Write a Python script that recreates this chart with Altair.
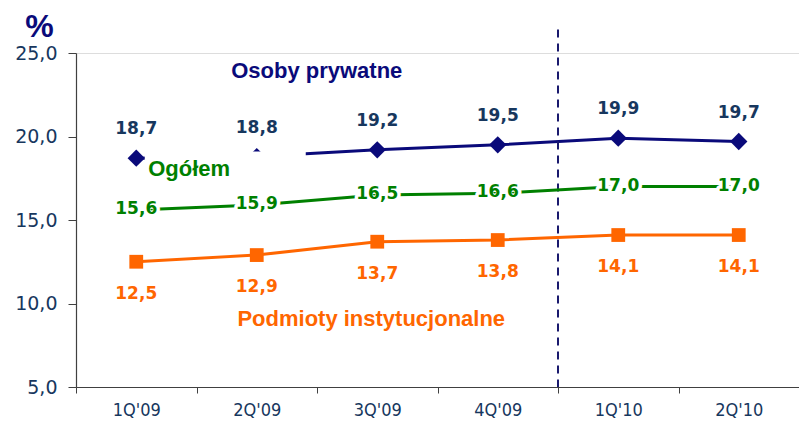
import altair as alt
import pandas as pd

quarters = ["1Q'09", "2Q'09", "3Q'09", "4Q'09", "1Q'10", "2Q'10"]
osoby = [18.7, 18.8, 19.2, 19.5, 19.9, 19.7]
ogolem = [15.6, 15.9, 16.5, 16.6, 17.0, 17.0]
podmioty = [12.5, 12.9, 13.7, 13.8, 14.1, 14.1]
y_ticks = [5, 10, 15, 20, 25]

NAVY = "#0A0A7A"
NAVY_TXT = "#17375E"
GREEN = "#008000"
ORANGE = "#FF6600"


def frame(vals):
    return pd.DataFrame({
        "quarter": quarters,
        "value": vals,
        "label": [f"{v:.1f}".replace(".", ",") for v in vals],
    })


d_os = frame(osoby)
d_og = frame(ogolem)
d_po = frame(podmioty)

x_scale = alt.Scale(type="band", paddingInner=0, paddingOuter=0, domain=quarters)
x_enc = alt.X(
    "quarter:O", sort=quarters, scale=x_scale,
    axis=alt.Axis(title=None, labelAngle=0, tickBand="extent", grid=False,
                  labelFont="DejaVu Sans Condensed", labelFontSize=18,
                  labelColor=NAVY_TXT, domainColor="#404040", tickColor="#404040",
                  tickSize=6, labelPadding=8, domainWidth=1.2),
)
y_enc = alt.Y(
    "value:Q",
    scale=alt.Scale(domain=[5, 25], nice=False, zero=False),
    axis=alt.Axis(values=y_ticks, grid=False,
                  labelExpr="replace(format(datum.value,'.1f'),'.',',')",
                  labelFont="DejaVu Sans", labelFontSize=19, labelColor=NAVY_TXT,
                  domainColor="#404040", tickColor="#404040", tickSize=8,
                  labelPadding=11, domainWidth=1.2,
                  title="%", titleAngle=0, titleX=-37, titleY=-17,
                  titleAlign="center", titleBaseline="alphabetic",
                  titleFontSize=32, titleFontWeight="bold", titleColor=NAVY,
                  titleFont="Liberation Sans"),
)

line_os = alt.Chart(d_os).mark_line(color=NAVY, strokeWidth=3).encode(x=x_enc, y=y_enc)
pts_os = alt.Chart(d_os).mark_point(shape="diamond", filled=True, color=NAVY, size=300, opacity=1).encode(x=x_enc, y=y_enc)

# white box behind the "Ogółem" label (it covers part of the navy line, as in the original)
mask = alt.Chart(d_os.iloc[[1]]).mark_point(
    shape="M-112,-5L49,-5L49,28L-112,28Z", size=4, filled=True,
    color="white", opacity=1, strokeWidth=0,
).encode(x=x_enc, y=y_enc)

# dashed separator between 2009 and 2010
sep = alt.Chart(pd.DataFrame({"quarter": ["1Q'10"], "top": [26.4], "bottom": [5.0]})).mark_rule(
    color="#1A1A6E", strokeWidth=2, strokeDash=[8, 6]
).encode(
    x=alt.X("quarter:O", sort=quarters, bandPosition=0, scale=x_scale),
    y=alt.Y("top:Q"), y2="bottom:Q",
)

line_og = alt.Chart(d_og).mark_line(color=GREEN, strokeWidth=3).encode(x=x_enc, y=y_enc)
line_po = alt.Chart(d_po).mark_line(color=ORANGE, strokeWidth=3).encode(x=x_enc, y=y_enc)
pts_po = alt.Chart(d_po).mark_point(shape="square", filled=True, color=ORANGE, size=190, opacity=1).encode(x=x_enc, y=y_enc)

num_font = dict(font="DejaVu Sans", fontSize=17, fontWeight="bold")

og_halo = alt.Chart(d_og).mark_text(fill="white", stroke="white", strokeWidth=7,
                                    strokeJoin="round", baseline="middle", dy=-1, **num_font).encode(
    x=x_enc, y=y_enc, text="label:N")
og_txt = alt.Chart(d_og).mark_text(color=GREEN, baseline="middle", dy=-1, **num_font).encode(
    x=x_enc, y=y_enc, text="label:N")
os_txt = alt.Chart(d_os).mark_text(color=NAVY_TXT, baseline="middle", dy=-29, **num_font).encode(
    x=x_enc, y=y_enc, text="label:N")
po_txt = alt.Chart(d_po).mark_text(color=ORANGE, baseline="middle", dy=32, **num_font).encode(
    x=x_enc, y=y_enc, text="label:N")

ser_font = dict(font="Liberation Sans", fontSize=22, fontWeight="bold", baseline="alphabetic")


def series_label(text, quarter, value, color, align, dx):
    d = pd.DataFrame({"quarter": [quarter], "value": [value], "t": [text]})
    return alt.Chart(d).mark_text(color=color, align=align, dx=dx, **ser_font).encode(
        x=x_enc, y=y_enc, text="t:N")


lab_os = series_label("Osoby prywatne", "2Q'09", 23.5, NAVY, "center", 60)
lab_og = series_label("Ogółem", "1Q'09", 17.66, GREEN, "left", 12)
lab_po = series_label("Podmioty instytucjonalne", "3Q'09", 8.68, ORANGE, "center", -6)

chart = alt.layer(
    line_os, pts_os, mask, lab_og, sep, line_og, line_po, pts_po,
    og_halo, og_txt, os_txt, po_txt, lab_os, lab_po,
).properties(
    width=723, height=334,
    autosize=alt.AutoSizeParams(type="none"),
    padding={"left": 68, "top": 45, "right": 0, "bottom": 34},
).configure_view(stroke=None).configure(background="white")

chart.save("out.html", embed_options={"renderer": "svg", "actions": False})
